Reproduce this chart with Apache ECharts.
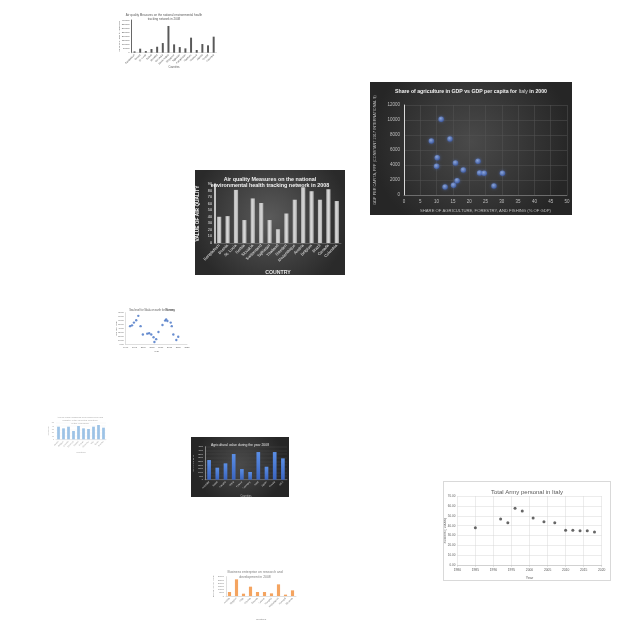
<!DOCTYPE html>
<html><head><meta charset="utf-8">
<script src="https://cdn.jsdelivr.net/npm/echarts@6/dist/echarts.min.js"></script>
<style>
html,body{margin:0;padding:0;background:#fff;width:640px;height:640px;overflow:hidden}
.c{position:absolute}
</style></head><body>
<div id="c1" class="c" style="left:108px;top:6px;width:112px;height:66px"></div>
<div id="c2" class="c" style="left:370px;top:82px;width:202px;height:133px"></div>
<div id="c3" class="c" style="left:195px;top:170px;width:150px;height:105px"></div>
<div id="c4" class="c" style="left:112px;top:303px;width:80px;height:52px"></div>
<div id="c5" class="c" style="left:46px;top:410px;width:68px;height:46px"></div>
<div id="c6" class="c" style="left:191px;top:437px;width:98px;height:60px"></div>
<div id="c7" class="c" style="left:443px;top:481px;width:168px;height:100px;box-sizing:border-box;border:1px solid #d9d9d9"></div>
<div id="c8" class="c" style="left:210px;top:562px;width:90px;height:62px"></div>
<script>
// ---- data ----
const airCountries1 = ["Bangladesh","Bosnia","St. Lucia","Serbia","Slovakia","Sri Lanka","Saudi Arabia","Singapore","Tajikistan","Kazakhstan","Maldives","Moldova","Algeria","Croatia","Colombia"];
const airValues1 = [16000,49000,20000,45000,73000,118000,327000,102000,69000,53000,184000,33000,106000,90000,196000];

const agriShare = [8.4,11.4,14.1,10.2,10.0,15.8,18.2,22.7,23.2,24.6,30.2,16.3,15.2,12.6,27.6];
const gdpPerCapita = [7200,10100,7470,4980,3820,4270,3330,4490,2930,2890,2890,1910,1290,1070,1200];

const airCountries3 = ["Bangladesh","Bosnia","St. Lucia","Serbia","Slovakia","Switzerland","Tajikistan","Thailand","Sweden","Mozambique","Austria","Belgium","Brazil","Canada","Colombia"];
const airValues3 = [40,41,81,35,68,61,35,21,45,66,85,79,66,82,64];

const seaYears = [1992.5,1993.6,1994.7,1996.0,1997.2,1998.5,1999.8,2002.3,2003.4,2004.6,2005.9,2006.4,2007.4,2008.7,2011.0,2012.5,2013.1,2013.8,2015.7,2016.3,2017.2,2018.9,2020.0];
const seaValues = [46,48,55,61,72,46,25,27,28,25,18,6,13,31,49,60,63,59,55,46,25,11,19];

const co2Countries = ["Austria","Belgium","Canada","Denmark","Finland","France","Germany","Italy","Spain","Sweden"];
const co2Values = [38,33,38,25,40,33,31,38,43,35];

const agriCountries = ["Australia","Brazil","Canada","China","France","Germany","India","Japan","Russia","USA"];
const agriValues = [2680,1640,2230,3500,1450,1050,3770,1770,3770,2910];

const armyYears = [1985,1992,1994,1996,1998,2001,2004,2007,2010,2012,2014,2016,2018];
const armySoldiers = [38.0,46.8,43.1,57.6,54.9,47.8,44.1,43.1,35.4,35.4,35.0,35.0,33.7];

const rdCountries = ["Austria","Belgium","Chile","Czechia","Estonia","Greece","Hungary","Netherlands","Portugal","Slovenia"];
const rdValues = [6200,25900,3600,14500,6200,6200,4100,18100,2100,8800];

// ---- helpers ----
function mk(id, opt){
  ['xAxis','yAxis'].forEach(k=>{ opt[k].nameMoveOverlap = false; });
  echarts.init(document.getElementById(id), null, {renderer:'canvas'}).setOption(opt);
}
function darkBg(c1,c2){ return {type:'radial',x:0.5,y:0.45,r:0.75,colorStops:[{offset:0,color:c1},{offset:1,color:c2}]}; }
function G(l,r,t,b){ return {left:l,right:r,top:t,bottom:b,containLabel:false,outerBoundsMode:'none'}; }
const plain = v => String(v);

// 1: Air quality (light)
mk('c1',{
  animation:false, backgroundColor:'#fff',
  title:{text:'Air quality Measures on the national environmental health\ntracking network in 2008',left:'center',top:2,
    textStyle:{fontSize:3,fontWeight:'normal',color:'#595959',lineHeight:4}},
  grid:G(23.7,3.5,14,19.3),
  xAxis:{type:'category',data:airCountries1,name:'Countries',nameLocation:'middle',nameGap:13,
    nameTextStyle:{fontSize:2.6,color:'#595959'},
    axisLine:{lineStyle:{color:'#bfbfbf',width:0.5}},axisTick:{show:false},
    axisLabel:{rotate:45,fontSize:2.4,color:'#595959',margin:2,interval:0}},
  yAxis:{type:'value',min:0,max:400000,interval:50000,name:'Value of air quality measures',nameLocation:'middle',nameGap:11.5,
    nameTextStyle:{fontSize:2.4,color:'#595959'},
    axisLine:{show:true,lineStyle:{color:'#404040',width:0.8}},splitLine:{show:false},
    axisLabel:{fontSize:2.4,color:'#595959',margin:2,formatter:plain}},
  series:[{type:'bar',data:airValues1,barWidth:'35%',itemStyle:{color:'#595959'}}]
});

// 2: Scatter share of agriculture vs GDP
mk('c2',{
  animation:false, backgroundColor:darkBg('#4a4a4a','#262626'),
  title:{text:'Share of agriculture in GDP vs GDP per capita for {i|Italy} in 2000',left:'center',top:2,
    textStyle:{fontSize:5.2,fontWeight:'bold',color:'#f2f2f2',
      rich:{i:{fontSize:5.2,fontWeight:'normal',color:'#d9d9d9'}}}},
  grid:G(34,5,23,20),
  xAxis:{type:'value',min:0,max:50,interval:5,name:'SHARE OF AGRICULTURE, FORESTRY, AND FISHING (% OF GDP)',
    nameLocation:'middle',nameGap:14,nameTextStyle:{fontSize:4.2,color:'#bfbfbf'},
    axisLine:{lineStyle:{color:'#8c8c8c',width:0.6}},axisTick:{show:false},
    splitLine:{lineStyle:{color:'#555',width:0.5}},axisLabel:{fontSize:4.5,color:'#bfbfbf',margin:4}},
  yAxis:{type:'value',min:0,max:12000,interval:2000,name:'GDP PER CAPITA, PPP (CONSTANT 2017 INTERNATIONAL $)',
    nameLocation:'middle',nameGap:27,nameTextStyle:{fontSize:3.8,color:'#bfbfbf'},
    axisLine:{show:true,lineStyle:{color:'#d9d9d9',width:1}},axisTick:{show:false},
    splitLine:{lineStyle:{color:'#555',width:0.5}},axisLabel:{fontSize:4.5,color:'#bfbfbf',margin:4,formatter:plain}},
  series:[{type:'scatter',symbolSize:5.5,
    data:agriShare.map((v,i)=>[v,gdpPerCapita[i]]),
    itemStyle:{color:{type:'radial',x:0.4,y:0.35,r:0.7,colorStops:[{offset:0,color:'#9bb8f0'},{offset:1,color:'#3556a8'}]},
      shadowBlur:3,shadowColor:'rgba(90,130,230,0.6)'}}]
});

// 3: Air quality (dark, large)
mk('c3',{
  animation:false, backgroundColor:darkBg('#5a5a5a','#2a2a2a'),
  title:{text:'Air quality Measures on the national\nenvironmental health tracking network in 2008',left:'center',top:1,
    textStyle:{fontSize:5.4,fontWeight:'bold',color:'#f2f2f2',lineHeight:6.2}},
  grid:G(20,4,14,32),
  xAxis:{type:'category',data:airCountries3,name:'COUNTRY',nameLocation:'middle',nameGap:27,
    nameTextStyle:{fontSize:5.2,fontWeight:'bold',color:'#e6e6e6'},
    axisLine:{lineStyle:{color:'#8c8c8c',width:0.5}},axisTick:{show:false},
    axisLabel:{rotate:45,fontSize:4,color:'#e6e6e6',margin:2,interval:0}},
  yAxis:{type:'value',min:0,max:90,interval:10,name:'VALUE OF AIR QUALITY',nameLocation:'middle',nameGap:15,
    nameTextStyle:{fontSize:4.8,fontWeight:'bold',color:'#f2f2f2'},
    axisLine:{show:true,lineStyle:{color:'#f2f2f2',width:1.5}},splitLine:{show:false},axisTick:{show:false},
    axisLabel:{fontSize:3.8,color:'#e6e6e6',margin:3}},
  series:[{type:'bar',data:airValues3,barWidth:'50%',
    itemStyle:{color:{type:'linear',x:0,y:0,x2:1,y2:0,colorStops:[{offset:0,color:'#b5b5b5'},{offset:0.5,color:'#d8d8d8'},{offset:1,color:'#a8a8a8'}]}}}]
});

// 4: small scatter
mk('c4',{
  animation:false, backgroundColor:'#fff',
  title:{text:'Sea level for Skala on earth for {b|Norway}',left:'center',top:1,
    textStyle:{fontSize:2.6,fontWeight:'normal',color:'#595959',rich:{b:{fontSize:2.6,fontWeight:'bold',color:'#404040'}}}},
  grid:G(13.7,5,9.7,10.7),
  xAxis:{type:'value',min:1990,max:2025,interval:5,name:'Year',nameLocation:'middle',nameGap:6.4,
    nameTextStyle:{fontSize:2.4,color:'#595959'},
    axisLine:{lineStyle:{color:'#bfbfbf',width:0.5}},axisTick:{show:false},splitLine:{show:false},
    axisLabel:{fontSize:2.2,color:'#595959',margin:2,formatter:plain}},
  yAxis:{type:'value',min:0,max:80,interval:10,name:'Sea level (mm)',nameLocation:'middle',nameGap:8.7,
    nameTextStyle:{fontSize:2.2,color:'#595959'},
    axisLine:{show:true,lineStyle:{color:'#bfbfbf',width:0.5}},splitLine:{show:false},axisTick:{show:false},
    axisLabel:{fontSize:2.2,color:'#595959',margin:2,formatter:v=>v.toFixed(2)}},
  series:[{type:'scatter',symbolSize:2.4,data:seaYears.map((v,i)=>[v,seaValues[i]]),itemStyle:{color:'#4472c4'}}]
});

// 5: light blue bars
mk('c5',{
  animation:false, backgroundColor:'#fff',
  title:{text:'Annual CO2 emissions from fossil fuels and\nindustry in the selected countries\nin the year 2008',left:'center',top:1,
    textStyle:{fontSize:2.4,fontWeight:'normal',color:'#a6a6a6',lineHeight:3}},
  grid:G(10,8,12.7,16.7),
  xAxis:{type:'category',data:co2Countries,name:'Countries',nameLocation:'middle',nameGap:12,
    nameTextStyle:{fontSize:2.2,color:'#a6a6a6'},
    axisLine:{lineStyle:{color:'#d9d9d9',width:0.5}},axisTick:{show:false},
    axisLabel:{rotate:45,fontSize:2,color:'#a6a6a6',margin:2,interval:0}},
  yAxis:{type:'value',min:0,max:50,interval:10,name:'Emissions',nameLocation:'middle',nameGap:7,
    nameTextStyle:{fontSize:2,color:'#a6a6a6'},
    axisLine:{show:false},splitLine:{lineStyle:{color:'#eeeeee',width:0.4}},axisTick:{show:false},
    axisLabel:{fontSize:2,color:'#a6a6a6',margin:2}},
  series:[{type:'bar',data:co2Values,barWidth:'55%',itemStyle:{color:'#9dc3e6'}}]
});

// 6: dark blue bars
mk('c6',{
  animation:false, backgroundColor:darkBg('#4a4a4a','#262626'),
  title:{text:'Agricultural value during the year 2008',left:'center',top:2,
    textStyle:{fontSize:3.4,fontWeight:'normal',color:'#e6e6e6'}},
  grid:G(14,2,9.7,17.3),
  xAxis:{type:'category',data:agriCountries,name:'Countries',nameLocation:'middle',nameGap:15,
    nameTextStyle:{fontSize:2.6,color:'#bfbfbf'},
    axisLine:{lineStyle:{color:'#8c8c8c',width:0.5}},axisTick:{show:false},
    axisLabel:{rotate:45,fontSize:2.4,color:'#d9d9d9',margin:2,interval:0}},
  yAxis:{type:'value',min:0,max:4500,interval:500,name:'Agricultural value',nameLocation:'middle',nameGap:11,
    nameTextStyle:{fontSize:2.2,color:'#bfbfbf'},
    axisLine:{show:true,lineStyle:{color:'#bfbfbf',width:0.6}},splitLine:{lineStyle:{color:'#4d4d4d',width:0.4}},axisTick:{show:false},
    axisLabel:{fontSize:2.2,color:'#d9d9d9',margin:2,formatter:plain}},
  series:[{type:'bar',data:agriValues,barWidth:'45%',
    itemStyle:{color:{type:'linear',x:0,y:0,x2:0,y2:1,colorStops:[{offset:0,color:'#5b8fe6'},{offset:1,color:'#3a64c0'}]}}}]
});

// 7: Army scatter
mk('c7',{
  animation:false, backgroundColor:'#fff',
  title:{text:'Total Army personal in Italy',left:'center',top:2,
    textStyle:{fontSize:6,fontWeight:'normal',color:'#595959'}},
  grid:G(13.3,8.3,14,14.7),
  xAxis:{type:'value',min:1980,max:2020,interval:5,name:'Year',nameLocation:'middle',nameGap:11,
    nameTextStyle:{fontSize:3.6,color:'#595959'},
    axisLine:{lineStyle:{color:'#bfbfbf',width:0.6}},axisTick:{show:true,length:1.5,lineStyle:{color:'#bfbfbf',width:0.5}},
    splitLine:{show:true,lineStyle:{color:'#d9d9d9',width:0.5}},axisLabel:{fontSize:3.3,color:'#595959',margin:3,formatter:plain}},
  yAxis:{type:'value',min:0,max:70,interval:10,name:'Soldiers (*10000)',nameLocation:'middle',nameGap:11,
    nameTextStyle:{fontSize:3.3,color:'#595959'},
    axisLine:{show:false},splitLine:{lineStyle:{color:'#d9d9d9',width:0.5}},axisTick:{show:false},
    axisLabel:{fontSize:3,color:'#595959',margin:2,formatter:v=>v.toFixed(2)}},
  series:[{type:'scatter',symbolSize:3,data:armyYears.map((v,i)=>[v,armySoldiers[i]]),itemStyle:{color:'#404040'}}]
});

// 8: orange bars
mk('c8',{
  animation:false, backgroundColor:'#fff',
  title:{text:'Business enterprise on research and\ndevelopment in 2008',left:'center',top:3,
    textStyle:{fontSize:3.4,fontWeight:'normal',color:'#7f7f7f',lineHeight:4.5}},
  grid:G(16,4,14.7,28),
  xAxis:{type:'category',data:rdCountries,name:'Countries',nameLocation:'middle',nameGap:22,
    nameTextStyle:{fontSize:2.4,color:'#7f7f7f'},
    axisLine:{lineStyle:{color:'#bfbfbf',width:0.5}},axisTick:{show:false},
    axisLabel:{rotate:45,fontSize:2.4,color:'#7f7f7f',margin:2,interval:0}},
  yAxis:{type:'value',min:0,max:30000,interval:5000,name:'Expenditure (million $)',nameLocation:'middle',nameGap:12,
    nameTextStyle:{fontSize:2.2,color:'#7f7f7f'},
    axisLine:{show:true,lineStyle:{color:'#bfbfbf',width:0.5}},splitLine:{show:false},axisTick:{show:false},
    axisLabel:{fontSize:2.2,color:'#7f7f7f',margin:2,formatter:plain}},
  series:[{type:'bar',data:rdValues,barWidth:'45%',itemStyle:{color:'#f4a460'}}]
});
</script>
</body></html>
